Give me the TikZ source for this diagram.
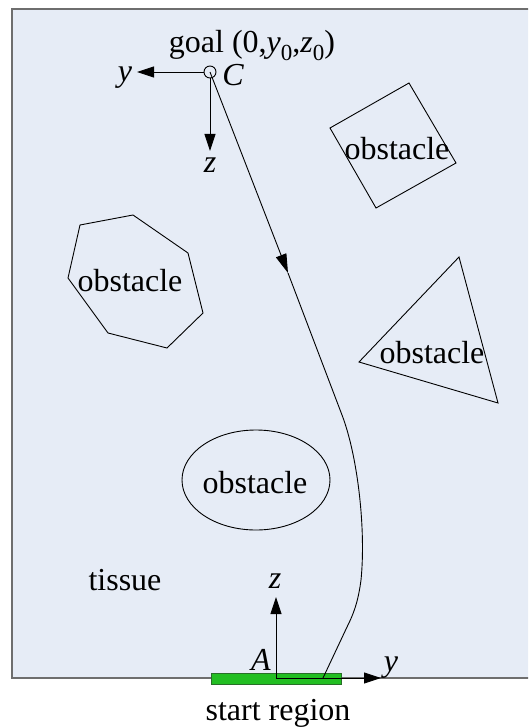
\documentclass[tikz,border=0pt]{standalone}
\usepackage{fontspec}
\setmainfont{Liberation Serif}
\newfontfamily\labelfont{Liberation Serif}
\usetikzlibrary{arrows.meta}

\definecolor{tissuefill}{RGB}{230,236,246}
\definecolor{framegray}{RGB}{110,110,110}
\definecolor{startgreen}{RGB}{34,190,34}
\definecolor{startedge}{RGB}{40,110,40}

\newcommand{\subz}{\raisebox{-0.22em}{\fontsize{23}{23}\selectfont 0}}

\begin{document}
\begin{tikzpicture}[x=1pt,y=-1pt,
    every node/.style={font=\labelfont\fontsize{32}{38}\selectfont, inner sep=0pt},
    lbl/.style={anchor=base},
    obst/.style={draw=black, line width=0.9pt},
    axis/.style={line width=0.9pt, -{Triangle[length=17pt,width=11pt]}},
    trajectory/.style={line width=0.9pt}]
  \useasboundingbox (0,0) rectangle (528,727);

  % tissue region
  \begin{scope}
    \clip (0,0) rectangle (528,727);
    \filldraw[fill=tissuefill, draw=framegray, line width=2pt] (12,9) rectangle (540,678);
  \end{scope}

  % obstacles
  \draw[obst] (330,128) -- (409,83) -- (456,163) -- (376,208) -- cycle;
  \node[lbl] (sqtext) at (397,160) {obstacle};

  \draw[obst] (459,257) -- (498,403) -- (359,362) -- cycle;
  \node[lbl] (tritext) at (432,363) {obstacle};

  \draw[obst] (80,225) -- (133,215) -- (188,253) -- (203,313) -- (167,348)
              -- (108,333) -- (68,278) -- cycle;
  \node[lbl] (heptext) at (130,291) {obstacle};

  \draw[obst] (256,480) ellipse [x radius=74, y radius=50];
  \node[lbl] (elltext) at (255,493) {obstacle};

  \node[lbl] (tissue) at (125,590) {tissue};

  % start region
  \draw[fill=startgreen, draw=startedge, line width=1pt] (211,673) rectangle (341,684);
  \node[lbl] (start) at (278,720) {start region};

  % goal frame at C
  \coordinate (C) at (210,72);
  \coordinate (Cy) at (137,72);
  \coordinate (Cz) at (210,151);
  \draw[axis] (C) -- (Cy);
  \draw[axis] (C) -- (Cz);
  \draw[line width=0.9pt, fill=tissuefill] (C) circle [radius=6];
  \node[lbl] (goal) at (252,53) {goal (0,{\itshape y}\subz,{\itshape z}\subz)};
  \node[lbl] (Clbl) at (233,86) {\itshape C};
  \node[lbl] (Cylbl) at (125,82) {\itshape y};
  \node[lbl] (Czlbl) at (210,173) {\itshape z};

  % start frame at A
  \coordinate (A) at (276,678);
  \coordinate (Ay) at (381,678);
  \coordinate (Az) at (276,597);
  \draw[axis] (A) -- (Az);
  \node[lbl] (Albl) at (261,670) {\itshape A};
  \node[lbl] (Azlbl) at (275,588) {\itshape z};
  \node[lbl] (Aylbl) at (391,671) {\itshape y};

  % needle trajectory from goal to start region
  \coordinate (mid) at (288,273);
  \coordinate (bend) at (342,415);
  \coordinate (low) at (347,627);
  \coordinate (entry) at (323,678);
  \draw[trajectory, -{Triangle[length=19pt,width=11pt]}] (C) -- (mid);
  \draw[trajectory] (mid) -- (bend)
    .. controls (358,457) and (366,530) .. (361,580)
    .. controls (358,603) and (353,615) .. (low) -- (entry);
  \draw[axis] (A) -- (Ay);
\end{tikzpicture}
\end{document}
